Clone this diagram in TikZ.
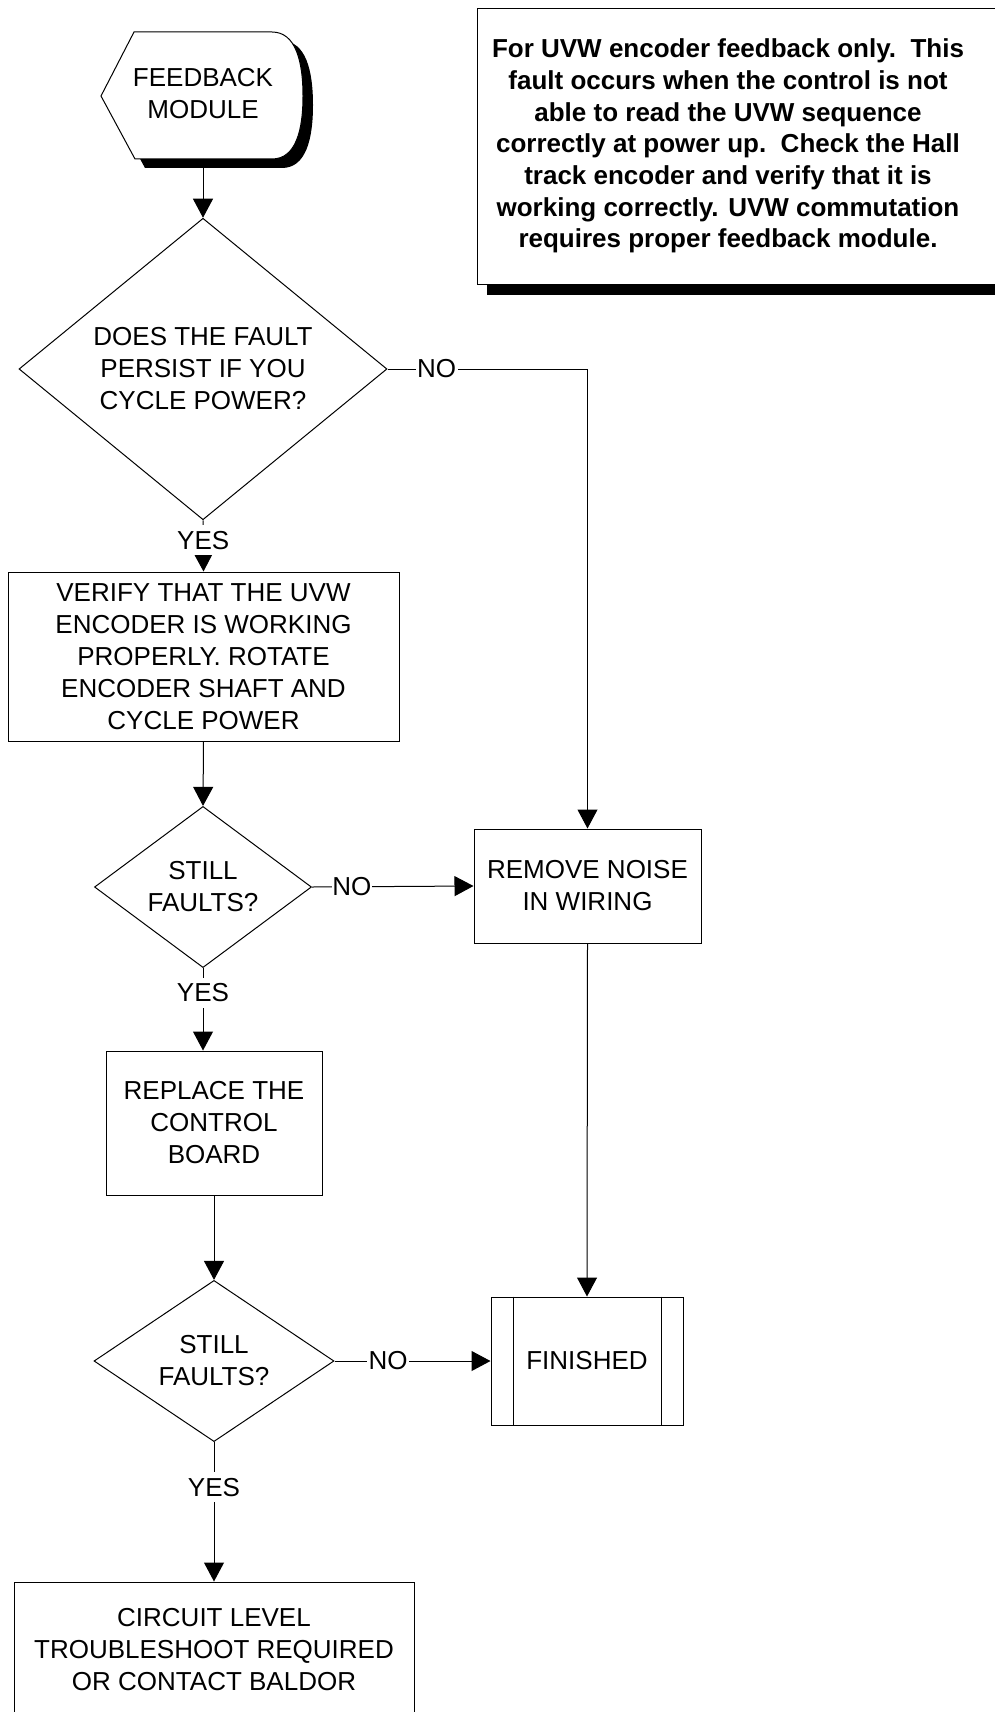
\documentclass[tikz,border=0pt]{standalone}
\usepackage{fontspec}
\setmainfont{Liberation Sans}
\usetikzlibrary{arrows.meta,shapes.geometric,calc}
\begin{document}
\begin{tikzpicture}[x=1pt,y=-1pt,
  line width=1pt,
  txt/.style={font=\fontsize{26}{32}\selectfont, align=center, inner sep=0pt},
  box/.style={txt, draw, rectangle},
  dec/.style={txt, draw, diamond, aspect=1},
  lbl/.style={font=\fontsize{26}{32}\selectfont, fill=white, inner xsep=1.5pt, inner ysep=6pt},
  arr/.style={-{Triangle[length=19pt,width=20pt]}},
  shadowfill/.style={fill=black, draw=none},
]
\useasboundingbox (0,0) rectangle (995,1712);

% ---- Feedback module (display shape with shadow)
\begin{scope}[shift={(10,9)}]
  \path[shadowfill] (134,32) -- (272,32) .. controls (296,32) and (303,62) .. (303,96)
    .. controls (303,130) and (296,159) .. (272,159) -- (135,159) -- (101,96) -- cycle;
\end{scope}
\draw[fill=white] (134,32) -- (272,32) .. controls (296,32) and (303,62) .. (303,96)
    .. controls (303,130) and (296,159) .. (272,159) -- (135,159) -- (101,96) -- cycle;
\node[txt] (fb) at (203,94) {FEEDBACK\\MODULE};
\coordinate (fbb) at (203,159);

% ---- Note box with shadow
\path[shadowfill] (487,284) rectangle (1010,295);
\node[draw, fill=white, minimum width=530, minimum height=276, inner sep=0pt, anchor=north west] (notebox) at (477,8) {};
\node[font=\fontsize{26}{31.7}\selectfont\bfseries, align=center, inner sep=0pt] (note) at (728,146)
 {For UVW encoder feedback only.\ \ This\\
  fault occurs when the control is not\\
  able to read the UVW sequence\\
  correctly at power up.\ \ Check the Hall\\
  track encoder and verify that it is\\
  working correctly. UVW commutation\\
  requires proper feedback module.};

% ---- Flow nodes
\node[dec, minimum width=368, minimum height=268] (d1) at (203,369) {DOES THE FAULT\\PERSIST IF YOU\\CYCLE POWER?};
\node[box, minimum width=391, minimum height=169] (verify) at (203.5,656.5)
 {VERIFY THAT THE UVW\\ENCODER IS WORKING\\PROPERLY. ROTATE\\ENCODER SHAFT AND\\CYCLE POWER};
\node[dec, minimum width=217, minimum height=144] (d2) at (203,887) {STILL\\FAULTS?};
\node[box, minimum width=227, minimum height=114] (noise) at (587.5,886) {REMOVE NOISE\\IN WIRING};
\node[box, minimum width=216, minimum height=144] (replace) at (214,1123) {REPLACE THE\\CONTROL\\BOARD};
\node[dec, minimum width=240, minimum height=158] (d3) at (214,1361) {STILL\\FAULTS?};
\node[box, minimum width=192, minimum height=128] (fin) at (587,1361) {FINISHED};
\draw ([xshift=23pt]fin.north west) -- ([xshift=23pt]fin.south west);
\draw ([xshift=-22pt]fin.north east) -- ([xshift=-22pt]fin.south east);
\node[box, minimum width=400, minimum height=136] (circ) at (214,1650)
 {CIRCUIT LEVEL\\TROUBLESHOOT REQUIRED\\OR CONTACT BALDOR};

% ---- Connectors
\draw[arr] (fbb) -- (d1.north);
\draw[arr] (d1.east) -- node[lbl, pos=0.245] {NO} (d1.east -| noise.north) -- (noise.north);
\draw[arr] (d1.south) -- node[lbl, pos=0.39] {YES} (verify.north);
\draw[arr] (verify.south) -- (d2.north);
\draw[arr] (d2.east) -- node[lbl, pos=0.247, inner xsep=0.5pt] {NO} (noise.west);
\draw[arr] (d2.south) -- node[lbl, pos=0.30] {YES} (d2.south |- replace.north);
\draw[arr] (noise.south) -- (fin.north);
\draw[arr] (replace.south) -- (d3.north);
\draw[arr] (d3.east) -- node[lbl, pos=0.344] {NO} (fin.west);
\draw[arr] (d3.south) -- node[lbl, pos=0.324] {YES} (circ.north);
\end{tikzpicture}
\end{document}
